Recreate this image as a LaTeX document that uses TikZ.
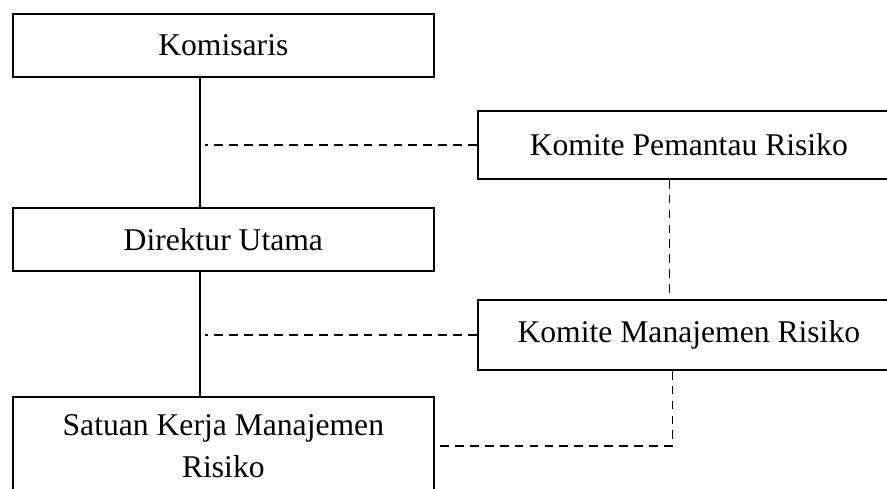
\documentclass[tikz,border=0pt]{standalone}
\usepackage{fontspec}
\setmainfont{Liberation Serif}
\usetikzlibrary{positioning}

\begin{document}
\begin{tikzpicture}[x=0.02cm,y=-0.02cm,
	box/.style={draw,line width=1pt,inner sep=0pt,anchor=north west,
		minimum width=8.42cm,minimum height=1.26cm,align=center,
		font=\fontsize{18pt}{24pt}\selectfont},
	link/.style={line width=0.8pt},
	dashlink/.style={line width=0.8pt,dash pattern=on 5pt off 3.5pt}]
	  % Fix the frame
	  \useasboundingbox (0,0) rectangle (887,488);
	  \clip (0,0) rectangle (887,488);
	  % Draw the boxes
	  \node[box] (komisaris) at (12,13) {Komisaris};
	  \node[box] (direktur) at (12,207) {Direktur Utama};
	  \node[box,minimum height=1.96cm] (satuan) at (12,396) {Satuan Kerja Manajemen\\Risiko};
	  \node[box,minimum width=8.44cm,minimum height=1.36cm] (pemantau) at (477,110) {Komite Pemantau Risiko};
	  \node[box,minimum width=8.44cm,minimum height=1.4cm] (manajemen) at (477,299) {Komite Manajemen Risiko};
	  % Draw the solid lines
	  \draw[link] ([xshift=-0.47cm]komisaris.south) -- ([xshift=-0.47cm]direktur.north);
	  \draw[link] ([xshift=-0.47cm]direktur.south) -- ([xshift=-0.47cm]satuan.north);
	  % Draw the dashed lines
	  \draw[dashlink] (pemantau.west) -- ([xshift=-0.37cm]pemantau.west -| komisaris.south);
	  \draw[dashlink] (manajemen.west) -- ([xshift=-0.37cm]manajemen.west -| direktur.south);
	  \draw[dashlink] ([xshift=-0.39cm]pemantau.south) -- ([xshift=-0.39cm]manajemen.north);
	  \draw[dashlink] ([xshift=-0.33cm]manajemen.south) |- (satuan.east);
\end{tikzpicture}
\end{document}
